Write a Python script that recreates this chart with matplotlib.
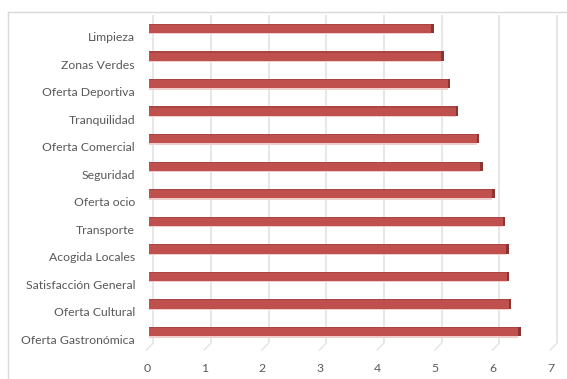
import matplotlib
matplotlib.use("Agg")
import matplotlib.pyplot as plt
import matplotlib.transforms as mtransforms
from matplotlib.lines import Line2D
import numpy as np

# Satisfaction scores per aspect (bottom to top)
categories = [
    "Oferta Gastronómica",
    "Oferta Cultural",
    "Satisfacción General",
    "Acogida Locales",
    "Transporte",
    "Oferta ocio",
    "Seguridad",
    "Oferta Comercial",
    "Tranquilidad",
    "Oferta Deportiva",
    "Zonas Verdes",
    "Limpieza",
]
scores = [6.40, 6.24, 6.20, 6.19, 6.13, 5.95, 5.74, 5.68, 5.32, 5.18, 5.07, 4.89]
x_ticks = [0, 1, 2, 3, 4, 5, 6, 7]

W, H, DPI = 567, 379, 100
fig = plt.figure(figsize=(W / DPI, H / DPI), dpi=DPI)
fig.patch.set_facecolor("white")

# chart frame (top and left edges visible)
frame_col = "#D9D9D9"
fig.add_artist(Line2D([8 / W, 1], [1 - 12 / H, 1 - 12 / H], color=frame_col, lw=1.0,
                      transform=fig.transFigure))
fig.add_artist(Line2D([8 / W, 8 / W], [0, 1 - 12 / H], color=frame_col, lw=1.0,
                      transform=fig.transFigure))

left_px, right_px = 149, 149 + 7 * 57.67
top_px, bot_px = 14.7, 345.3
ax = fig.add_axes([left_px / W, 1 - bot_px / H, (right_px - left_px) / W, (bot_px - top_px) / H])
ax.set_xlim(0, 7)
ax.set_ylim(-0.5, len(categories) - 0.5)
for s in ax.spines.values():
    s.set_visible(False)
ax.patch.set_visible(False)

# depth offsets of the 3D back wall / floor (data units)
px_x = 7 / (right_px - left_px)
px_y = len(categories) / (bot_px - top_px)
dx_back = 4.3 * px_x
wall_bottom = -0.5 + 2.3 * px_y
floor_front = -0.5 - 4.7 * px_y
grid_col = "#E3E3E3"
for v in x_ticks:
    ax.plot([v + dx_back, v + dx_back], [len(categories) - 0.5, wall_bottom],
            color=grid_col, lw=1.2, zorder=1, clip_on=False, solid_capstyle="butt")
    ax.plot([v + dx_back, v - 2.5 * px_x], [wall_bottom, floor_front],
            color=grid_col, lw=1.0, zorder=1, clip_on=False)

# bars with a simple 3D look: shadow, front face, top edge, end cap
y = np.arange(len(categories))
h = 9.4 * px_y
ax.barh(y - h / 2 - 0.6 * px_y, scores, height=1.4 * px_y, color="#EFCFCE", zorder=2)
ax.barh(y, scores, height=h, color="#C0504D", zorder=3)
ax.barh(y + h / 2 - 0.6 * px_y, scores, height=1.2 * px_y, color="#A94643", zorder=4)
ax.barh(y, [2.6 * px_x] * len(scores), left=scores, height=h, color="#8A3532", zorder=4)

font = "Lato"
label_col = "#595959"
ax.set_yticks(y)
ax.set_yticklabels(categories, fontsize=8.8, color=label_col, family=font)
ax.set_xticks(x_ticks)
ax.set_xticklabels([str(t) for t in x_ticks], fontsize=8.8, color=label_col, family=font)
ax.tick_params(axis="y", length=0, pad=10)
ax.tick_params(axis="x", length=0, pad=13)

down = mtransforms.ScaledTranslation(0, -8.0 / DPI, fig.dpi_scale_trans)
for lab in ax.get_yticklabels():
    lab.set_transform(lab.get_transform() + down)
shift = mtransforms.ScaledTranslation(-2.0 / DPI, 0, fig.dpi_scale_trans)
for lab in ax.get_xticklabels():
    lab.set_transform(lab.get_transform() + shift)

fig.savefig("out.png", dpi=DPI, facecolor="white")
